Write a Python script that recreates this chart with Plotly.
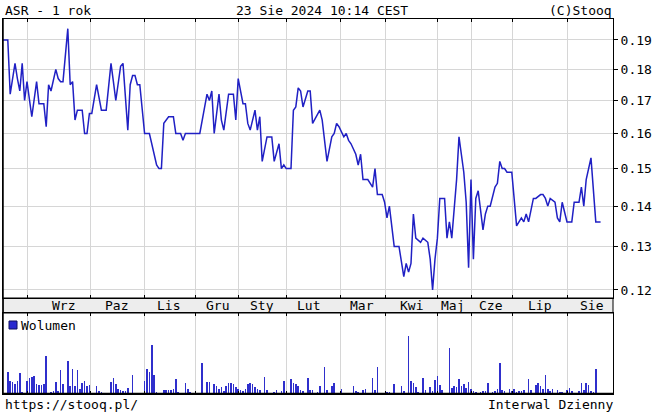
import plotly.graph_objects as go

# ---- data (session index = trading-day number on the compressed stooq axis) ----
sessions = [0, 2, 3, 5, 6, 7, 8, 9, 10, 12, 14, 15, 17, 18, 19, 20, 22, 23, 24, 25,
            27, 28, 29, 30, 31, 33, 34, 35, 36, 37, 39, 40, 41, 43, 45, 46, 47, 49, 50, 52,
            53, 54, 55, 56, 57, 59, 61, 64, 65, 66, 67, 69, 71, 72, 74, 75, 76, 82, 85, 86,
            87, 88, 90, 91, 92, 94, 96, 97, 98, 100, 101, 102, 103, 105, 106, 107, 108, 110, 112, 113,
            115, 116, 117, 118, 120, 121, 122, 123, 124, 125, 127, 128, 129, 132, 133, 135, 137, 138, 139, 140,
            142, 143, 144, 145, 147, 148, 149, 150, 152, 154, 155, 156, 158, 159, 160, 161, 163, 165, 167, 168,
            169, 170, 171, 172, 174, 175, 177, 178, 179, 180, 181, 182, 184, 185, 186, 187, 189, 190, 192, 193,
            194, 195, 196, 197, 198, 200, 201, 202, 203, 205, 206, 207, 208, 209, 210, 212, 214, 215, 216, 217,
            218, 219, 221, 222, 224, 225, 226, 227, 228, 230, 231, 232, 233, 235, 237, 238, 240, 241, 242, 243,
            245, 247, 249]
close = [0.190, 0.190, 0.172, 0.182, 0.177, 0.173, 0.182, 0.170, 0.176, 0.165, 0.176, 0.169, 0.169, 0.162, 0.175, 0.173, 0.180, 0.177, 0.176, 0.176,
         0.194, 0.175, 0.176, 0.164, 0.167, 0.167, 0.160, 0.160, 0.166, 0.166, 0.175, 0.171, 0.167, 0.167, 0.182, 0.176, 0.170, 0.181, 0.182, 0.161,
         0.175, 0.178, 0.178, 0.175, 0.175, 0.160, 0.160, 0.151, 0.150, 0.150, 0.163, 0.165, 0.165, 0.160, 0.160, 0.158, 0.160, 0.160, 0.172, 0.170,
         0.173, 0.160, 0.172, 0.164, 0.161, 0.172, 0.172, 0.164, 0.177, 0.169, 0.169, 0.163, 0.161, 0.167, 0.161, 0.165, 0.152, 0.159, 0.159, 0.152,
         0.157, 0.150, 0.151, 0.150, 0.150, 0.167, 0.168, 0.174, 0.173, 0.168, 0.173, 0.173, 0.163, 0.167, 0.164, 0.152, 0.159, 0.160, 0.163, 0.162,
         0.159, 0.160, 0.158, 0.157, 0.154, 0.151, 0.154, 0.147, 0.147, 0.145, 0.150, 0.143, 0.143, 0.141, 0.137, 0.140, 0.130, 0.130, 0.123, 0.126,
         0.124, 0.126, 0.138, 0.132, 0.131, 0.132, 0.131, 0.127, 0.120, 0.127, 0.132, 0.142, 0.142, 0.132, 0.136, 0.132, 0.147, 0.159, 0.149, 0.141,
         0.125, 0.147, 0.127, 0.142, 0.144, 0.134, 0.138, 0.140, 0.140, 0.145, 0.146, 0.152, 0.150, 0.150, 0.149, 0.149, 0.135, 0.136, 0.137, 0.136,
         0.138, 0.136, 0.142, 0.142, 0.143, 0.143, 0.142, 0.140, 0.142, 0.141, 0.137, 0.136, 0.141, 0.136, 0.136, 0.141, 0.141, 0.145, 0.140, 0.147,
         0.153, 0.136, 0.136]

vol_sessions = [2, 3, 4, 5, 6, 7, 8, 10, 11, 12, 13, 14, 15, 16, 17, 18, 20, 21, 22, 23,
                24, 25, 27, 28, 29, 30, 31, 32, 33, 34, 35, 36, 39, 40, 41, 45, 46, 47, 48, 49,
                50, 51, 52, 54, 59, 60, 61, 62, 63, 64, 67, 68, 69, 70, 71, 72, 73, 76, 77, 78,
                83, 85, 86, 88, 89, 90, 91, 92, 93, 94, 95, 96, 97, 98, 99, 100, 101, 102, 103, 104,
                105, 106, 107, 109, 110, 113, 114, 116, 117, 120, 121, 122, 123, 124, 125, 127, 128, 129, 131, 132,
                134, 135, 137, 138, 141, 146, 147, 148, 150, 151, 154, 155, 156, 160, 161, 163, 166, 167, 169, 170,
                171, 172, 173, 175, 176, 178, 179, 180, 181, 182, 183, 186, 187, 188, 189, 190, 191, 192, 193, 194,
                195, 196, 197, 199, 200, 201, 202, 204, 205, 206, 207, 208, 209, 211, 212, 213, 214, 215, 216, 217,
                219, 220, 222, 223, 224, 225, 226, 227, 228, 229, 231, 232, 233, 235, 236, 237, 240, 241, 242, 243,
                244, 245, 246, 247]
volume = [65, 38, 33, 28, 38, 61, 5, 38, 45, 48, 53, 28, 25, 25, 28, 113, 6, 8, 33, 8,
          70, 28, 98, 23, 73, 23, 71, 13, 30, 38, 23, 25, 21, 8, 5, 35, 45, 28, 13, 10,
          8, 8, 15, 56, 38, 73, 65, 145, 56, 6, 10, 10, 10, 11, 13, 43, 5, 31, 13, 5,
          91, 35, 35, 28, 21, 13, 18, 8, 21, 31, 31, 28, 18, 13, 10, 8, 13, 28, 31, 28,
          18, 13, 11, 50, 10, 6, 10, 8, 38, 43, 31, 28, 21, 10, 8, 45, 11, 10, 6, 23,
          78, 11, 21, 31, 13, 21, 8, 6, 10, 13, 45, 11, 80, 5, 6, 28, 23, 8, 171, 38,
          31, 18, 6, 45, 10, 18, 8, 41, 53, 25, 10, 135, 15, 21, 20, 43, 23, 28, 15, 35,
          13, 8, 5, 6, 8, 8, 31, 6, 8, 13, 91, 10, 8, 13, 8, 13, 6, 8, 8, 10,
          43, 10, 25, 31, 21, 13, 56, 13, 8, 13, 11, 6, 6, 10, 15, 8, 8, 31, 11, 30,
          25, 8, 6, 73]

month_starts = [10.4, 36.25, 58.75, 80, 98.3, 118.3, 140.8, 159.2, 181.25, 195.2, 212.3, 235.4]
month_names = ["Wrz", "Paz", "Lis", "Gru", "Sty", "Lut", "Mar", "Kwi", "Maj", "Cze", "Lip", "Sie"]
month_label_pos = [25, 47.1, 68.75, 89.2, 107.9, 127.1, 149.6, 170.4, 187.5, 203.3, 223.75, 245.4]

price_ticks = [0.12, 0.13, 0.14, 0.15, 0.16, 0.17, 0.18, 0.19]
price_tick_text = ["0.12", "0.13", "0.14", "0.15", "0.16", "0.17", "0.18", "0.19"]

title_left = "ASR - 1 rok"
title_mid = "23 Sie 2024 10:14 CEST"
title_right = "(C)Stooq"
footer_left = "https://stooq.pl/"
footer_right = "Interwal Dzienny"
volume_name = "Wolumen"

# ---- layout geometry ----
W, H = 654, 413
def px(x):
    return x / W
def py(y):
    return 1 - y / H

X0, X1 = px(3), px(613)
P_TOP, P_BOT = py(19), py(298)
B_BOT = py(313)
V_BOT = py(393.5)

FONT = "DejaVu Sans Mono"
LINE_BLUE = "#2020c4"
BAR_BLUE = "#2f2fcc"
GRID = "#d6d6d6"

xrange_ = [0, 254.17]

fig = go.Figure()
fig.add_trace(go.Scatter(x=sessions, y=close, mode="lines",
                         line=dict(color=LINE_BLUE, width=1.5),
                         xaxis="x", yaxis="y", hoverinfo="skip", showlegend=False))
fig.add_trace(go.Bar(x=vol_sessions, y=volume, width=0.6,
                     marker=dict(color=BAR_BLUE, line=dict(width=0)),
                     xaxis="x2", yaxis="y2", hoverinfo="skip", showlegend=False))

common_x = dict(range=xrange_, tickvals=month_starts, showticklabels=False,
                showgrid=True, gridcolor=GRID, gridwidth=1, zeroline=False,
                showline=True, linecolor="black", linewidth=1, mirror="ticks",
                ticks="inside", ticklen=3, tickcolor="black", fixedrange=True)

fig.update_layout(
    width=W, height=H,
    margin=dict(l=0, r=0, t=0, b=0),
    paper_bgcolor="white", plot_bgcolor="white",
    showlegend=False,
    bargap=0,
    xaxis=dict(domain=[X0, X1], anchor="y", **common_x),
    yaxis=dict(domain=[P_BOT, P_TOP], anchor="x", type="log",
               range=[-0.92721, -0.70449], side="right",
               tickvals=price_ticks, ticktext=price_tick_text,
               ticks="outside", ticklen=4, tickcolor="black",
               tickfont=dict(family=FONT, size=13, color="black"),
               showgrid=True, gridcolor=GRID, gridwidth=1, zeroline=False,
               showline=True, linecolor="black", linewidth=1, mirror=True,
               automargin=False, fixedrange=True),
    xaxis2=dict(domain=[X0, X1], anchor="y2", **common_x),
    yaxis2=dict(domain=[V_BOT, B_BOT], anchor="x2", range=[0, 241],
                showticklabels=False, ticks="", showgrid=False, zeroline=False,
                showline=True, linecolor="black", linewidth=1, mirror=True,
                fixedrange=True),
)

shapes = [
    # month label band
    dict(type="rect", xref="paper", yref="paper", x0=X0, x1=X1, y0=B_BOT, y1=P_BOT,
         fillcolor="#ededed", line=dict(color="black", width=1), layer="below"),
    # thicker outer frame edges
    dict(type="line", xref="paper", yref="paper", x0=X0, x1=X0, y0=V_BOT, y1=P_TOP,
         line=dict(color="black", width=1.5)),
    dict(type="line", xref="paper", yref="paper", x0=X0, x1=X1, y0=V_BOT, y1=V_BOT,
         line=dict(color="black", width=1.5)),
    # volume legend square
    dict(type="rect", xref="paper", yref="paper", x0=px(9), x1=px(17), y0=py(329), y1=py(321),
         fillcolor="#2a2ad0", line=dict(color="#101060", width=1)),
]
fig.update_layout(shapes=shapes)

ann = []
def txt(text, x, y, xanchor, size=13, xref="paper"):
    ann.append(dict(text=text, x=x, y=y, xref=xref, yref="paper", xanchor=xanchor,
                    yanchor="middle", showarrow=False,
                    font=dict(family=FONT, size=size, color="black")))

txt(title_left, px(3), py(10), "left")
txt(title_mid, px(322), py(10), "center")
txt(title_right, px(614), py(10), "right")
txt(footer_left, px(3), py(404), "left")
txt(footer_right, px(615), py(404), "right")
txt(volume_name, px(19), py(325), "left")
for name, pos in zip(month_names, month_label_pos):
    txt(name, pos, py(305.5), "center", xref="x")

fig.update_layout(annotations=ann)

fig.write_html("out.html", config={"displayModeBar": False, "staticPlot": True})

# remove the default browser body margin so the figure fills the window exactly
with open("out.html", "r", encoding="utf-8") as f:
    html = f.read()
html = html.replace("<head>", "<head><style>html,body{margin:0;padding:0;overflow:hidden;}</style>", 1)
with open("out.html", "w", encoding="utf-8") as f:
    f.write(html)
